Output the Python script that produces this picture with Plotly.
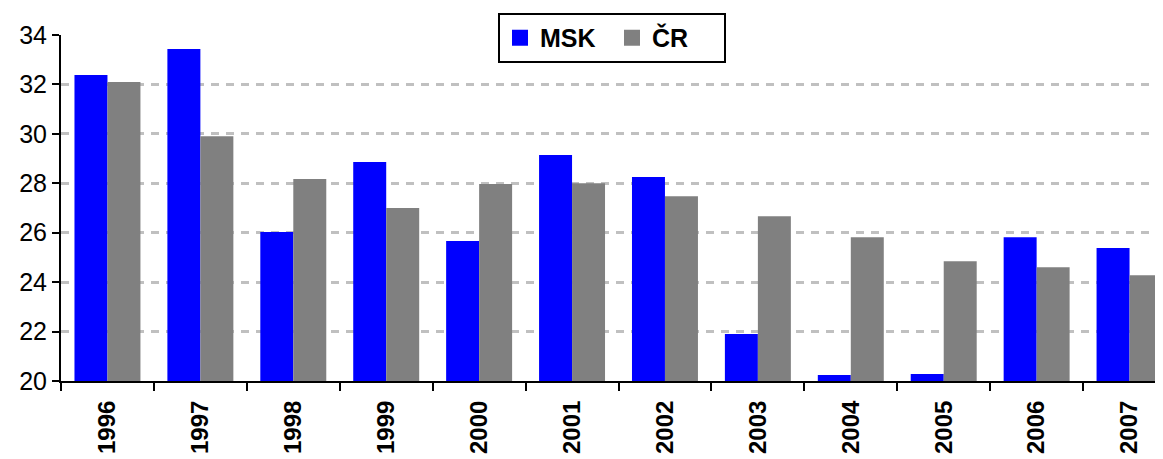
import plotly.graph_objects as go

years = ["1996", "1997", "1998", "1999", "2000", "2001", "2002", "2003", "2004", "2005", "2006", "2007"]
msk = [32.38, 33.43, 26.03, 28.86, 25.66, 29.14, 28.25, 21.9, 20.24, 20.28, 25.82, 25.38]
cr = [32.1, 29.9, 28.17, 27.0, 27.97, 28.0, 27.48, 26.67, 25.82, 24.85, 24.6, 24.28]
series_names = ["MSK", "ČR"]
colors = ["#0000FF", "#808080"]

fig = go.Figure()
for name, vals, col in zip(series_names, [msk, cr], colors):
    fig.add_trace(go.Bar(x=years, y=vals, name=name, showlegend=False,
                         marker=dict(color=col, line=dict(width=0))))
for name, col in zip(series_names, colors):
    fig.add_trace(go.Scatter(x=[None], y=[None], mode="markers", name=name,
                             marker=dict(symbol="square", size=17, color=col)))

fig.update_layout(
    width=1155, height=451,
    margin=dict(l=53, r=0, t=27, b=78),
    paper_bgcolor="white", plot_bgcolor="white",
    barmode="group", bargap=0.29, bargroupgap=0,
    font=dict(family="Liberation Sans, Arial", color="black"),
    legend=dict(
        orientation="h", x=0.50, xanchor="center", y=1.0636, yanchor="top",
        bordercolor="black", borderwidth=2, bgcolor="white",
        font=dict(size=25, family="Liberation Sans, Arial", color="black", weight="bold"),
        itemsizing="trace", traceorder="normal",
        entrywidth=67, entrywidthmode="pixels",
    ),
    xaxis=dict(
        type="category", range=[-0.5, 11.36],
        showline=True, linecolor="black", linewidth=2,
        ticks="outside", tickson="boundaries", ticklen=8, tickwidth=2, tickcolor="black",
        tickangle=-90, tickfont=dict(size=24, weight="bold"), ticklabelstandoff=8,
        showgrid=False,
    ),
    yaxis=dict(
        range=[20, 34], tickvals=[20, 22, 24, 26, 28, 30, 32, 34],
        showline=True, linecolor="black", linewidth=2,
        ticks="outside", ticklen=7, tickwidth=2, tickcolor="black",
        tickfont=dict(size=25),
        showgrid=True, gridcolor="#C0C0C0", gridwidth=3, griddash="8px,7px",
        zeroline=False,
    ),
)

fig.write_html("out.html")
